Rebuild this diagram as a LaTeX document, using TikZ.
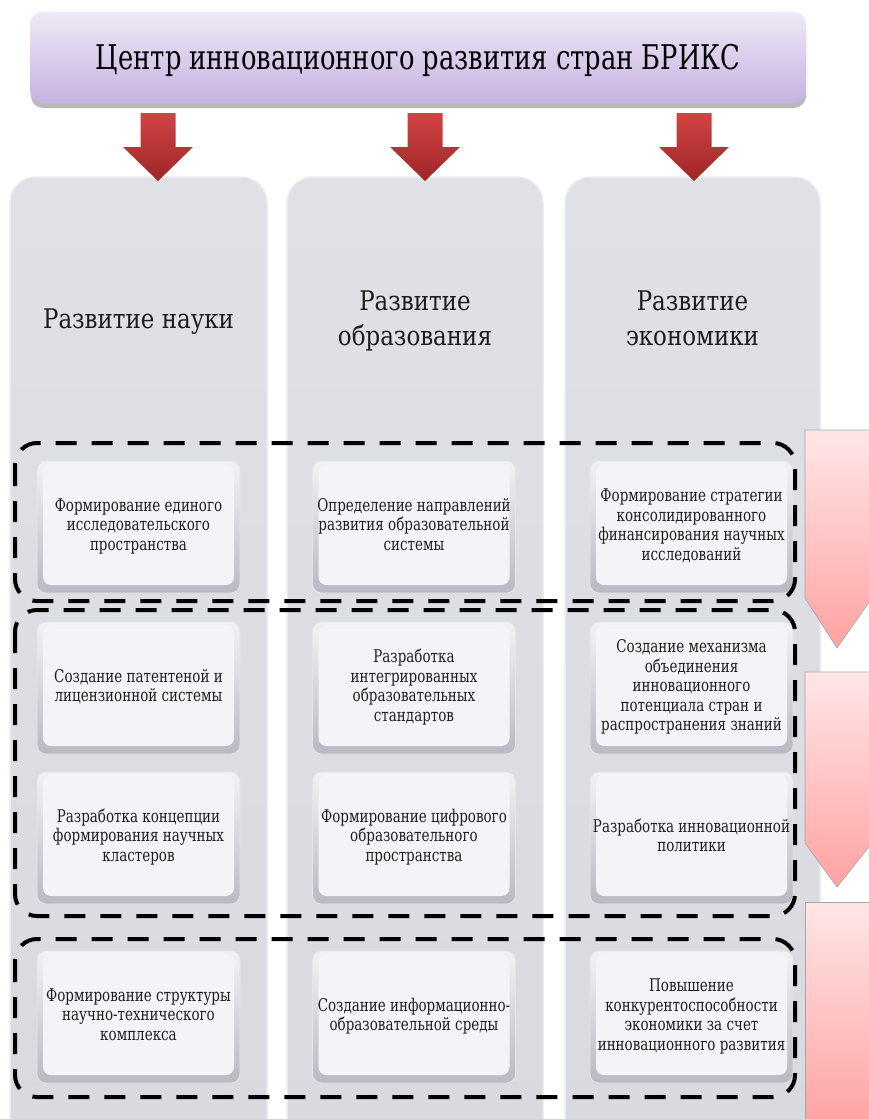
\documentclass[tikz,border=0pt]{standalone}
\usepackage{fontspec}
\usepackage{graphicx}
\setmainfont{DejaVu Serif}
\usetikzlibrary{calc}
\definecolor{ttop}{HTML}{EFE9F7}
\definecolor{tbot}{HTML}{C6B2E1}
\definecolor{rtop}{HTML}{D24444}
\definecolor{rbot}{HTML}{9E2626}
\definecolor{ptop}{HTML}{FFE6E6}
\definecolor{pbot}{HTML}{FFA2A2}
\definecolor{coltop}{HTML}{E0E0E7}
\definecolor{colbot}{HTML}{D9D9E0}
\definecolor{bxout1}{HTML}{F2F2F6}
\definecolor{bxout2}{HTML}{B9B9C3}
\definecolor{bxin}{HTML}{F4F4F8}
\definecolor{txt}{HTML}{1E1E1E}
\newcommand\sqz[2][0.77]{\scalebox{#1}[1]{\begin{tabular}{@{}c@{}}#2\end{tabular}}}
\tikzset{
  colbox/.style={draw=white!85!gray, line width=1.5pt, rounded corners=26pt, top color=coltop, bottom color=colbot},
  itembox/.style={minimum width=203pt, minimum height=132pt, inner sep=0pt, rounded corners=9pt,
     top color=bxout1, bottom color=bxout2, draw=white!80!gray, line width=0.8pt,
     text=txt, align=center,
     font=\rmfamily\fontsize{17.5}{19.5}\selectfont,
     path picture={\fill[bxin, rounded corners=8pt]
        ([xshift=6pt,yshift=-3pt]path picture bounding box.north west) rectangle
        ([xshift=-6pt,yshift=8pt]path picture bounding box.south east);}},
  hdrtext/.style={text=txt, align=center, font=\rmfamily\fontsize{27}{35}\selectfont},
  redarrow/.style={top color=rtop, bottom color=rbot, draw=none},
  pinkarrow/.style={top color=ptop, bottom color=pbot, draw=gray!70, line width=0.6pt},
  dashgroup/.style={draw=black, line width=4pt, dash pattern=on 21pt off 15pt, rounded corners=22pt}
}
\begin{document}
\begin{tikzpicture}[x=1pt,y=-1pt]
\useasboundingbox (0,0) rectangle (868,1119);
\fill[white] (0,0) rectangle (868,1119);
% title
\fill[gray!55, rounded corners=12pt] (31,18) rectangle (806,108);
\node[draw=none, top color=ttop, bottom color=tbot, rounded corners=12pt,
      minimum width=776pt, minimum height=91pt, inner sep=0pt] (title) at (418,57.5) {};
\node[font=\rmfamily\fontsize{34}{40}\selectfont, text=black, inner sep=0pt] (titletext) at (418,61) {\sqz[0.757]{Центр инновационного развития стран БРИКС}};
% columns
\draw[colbox] (10,177) rectangle (267,1150);
\draw[colbox] (287,177) rectangle (543,1150);
\draw[colbox] (565,177) rectangle (820,1150);
% red arrows
\foreach \cx in {158, 425, 694}{
  \path[redarrow] (\cx-17.5,113) -- (\cx+17.5,113) -- (\cx+17.5,147) -- (\cx+35,147)
     -- (\cx,181) -- (\cx-35,147) -- (\cx-17.5,147) -- cycle;
}
% headers
\node[hdrtext] (h1) at (138.5,321) {\sqz[0.85]{Развитие науки}};
\node[hdrtext] (h2) at (415,321) {\sqz[0.85]{Развитие\\образования}};
\node[hdrtext] (h3) at (692.5,321) {\sqz[0.85]{Развитие\\экономики}};
% pink arrows
\path[pinkarrow] (805,430) -- (872,430) -- (872,598) -- (837,648) -- (805,598) -- cycle;
\path[pinkarrow] (805,672) -- (872,672) -- (872,843) -- (837,887) -- (805,843) -- cycle;
\path[pinkarrow] (805,902) -- (872,902) -- (872,1125) -- (805,1125) -- cycle;
% item boxes
\node[itembox] (b11) at (138.5,527) {\sqz{Формирование единого\\исследовательского\\пространства}};
\node[itembox] (b21) at (138.5,688) {\sqz{Создание патентеной и\\лицензионной системы}};
\node[itembox] (b31) at (138.5,838) {\sqz{Разработка концепции\\формирования научных\\кластеров}};
\node[itembox] (b41) at (138.5,1017) {\sqz{Формирование структуры\\научно-технического\\комплекса}};
\node[itembox] (b12) at (414,527) {\sqz{Определение направлений\\развития образовательной\\системы}};
\node[itembox] (b22) at (414,688) {\sqz{Разработка\\интегрированных\\образовательных\\стандартов}};
\node[itembox] (b32) at (414,838) {\sqz{Формирование цифрового\\образовательного\\пространства}};
\node[itembox] (b42) at (414,1017) {\sqz{Создание информационно-\\образовательной среды}};
\node[itembox] (b13) at (691.5,527) {\sqz{Формирование стратегии\\консолидированного\\финансирования научных\\исследований}};
\node[itembox] (b23) at (691.5,688) {\sqz{Создание механизма\\объединения\\инновационного\\потенциала стран и\\распространения знаний}};
\node[itembox] (b33) at (691.5,838) {\sqz{Разработка инновационной\\политики}};
\node[itembox] (b43) at (691.5,1017) {\sqz{Повышение\\конкурентоспособности\\экономики за счет\\инновационного развития}};
% dashed groups
\draw[dashgroup] (15,443) rectangle (795,601);
\draw[dashgroup] (15,610) rectangle (795,916);
\draw[dashgroup] (15,939) rectangle (795,1097);
\end{tikzpicture}
\end{document}
